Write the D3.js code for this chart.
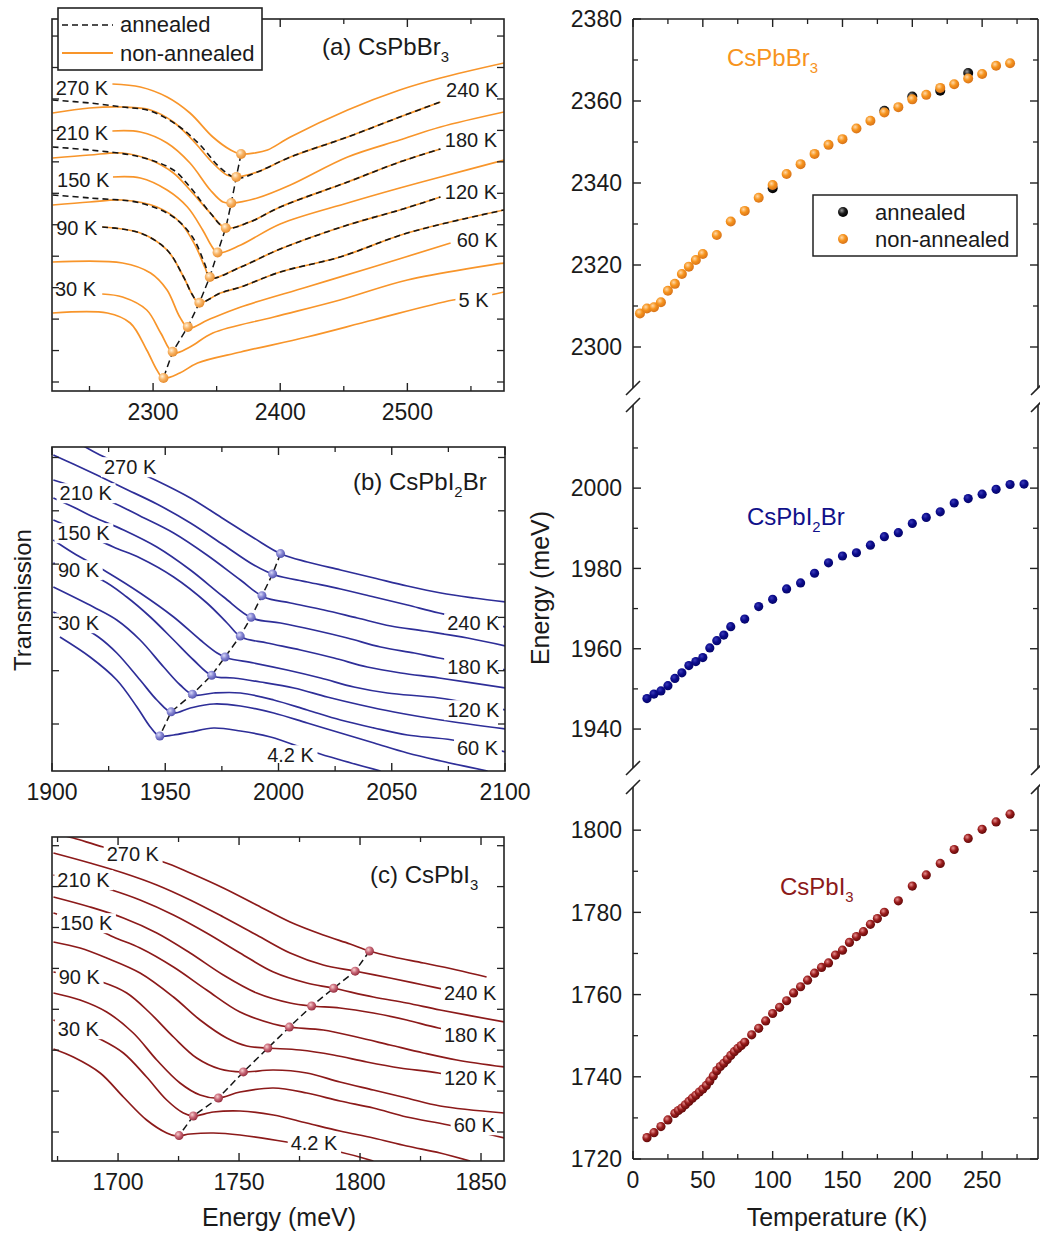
<!DOCTYPE html>
<html><head><meta charset="utf-8">
<script src="https://cdn.jsdelivr.net/npm/d3@7/dist/d3.min.js"></script>
<style>
body{margin:0;background:#fff}
svg{display:block}
text{font-family:"Liberation Sans",Arial,Helvetica,sans-serif;fill:#1a1a1a}
</style></head>
<body><svg id="chart" width="1040" height="1237"></svg>
<script>
// ================= DATA =================
// Right panel: exciton energy vs temperature
const tempsBr = [5,10,15,20,25,30,35,40,45,50,60,70,80,90,100,110,120,130,140,150,160,170,180,190,200,210,220,230,240,250,260,270];
const energyBr = [2308.2,2309.4,2309.7,2310.9,2313.7,2315.4,2317.8,2319.6,2321.2,2322.7,2327.3,2330.6,2333.2,2336.4,2339.5,2342.2,2344.6,2347.1,2349.3,2350.7,2353.3,2355.2,2357.2,2358.5,2360.4,2361.5,2363.2,2364.1,2365.5,2366.6,2368.6,2369.2];
const tempsBrAnn = [100,180,200,220,240];
const energyBrAnn = [2338.7,2357.6,2361.1,2362.5,2366.8];
const tempsI2Br = [10,15,20,25,30,35,40,45,50,55,60,65,70,80,90,100,110,120,130,140,150,160,170,180,190,200,210,220,230,240,250,260,270,280];
const energyI2Br = [1947.6,1948.7,1949.5,1950.8,1952.6,1954.0,1955.8,1956.8,1957.8,1960.2,1962.0,1963.4,1965.5,1967.4,1970.5,1972.3,1974.9,1976.4,1978.8,1981.4,1983.1,1983.9,1985.8,1987.9,1988.9,1991.2,1992.7,1994.1,1996.3,1997.4,1998.5,1999.7,2000.9,2001.0];
const tempsI3 = [10,15,20,25,30,32.5,35,37.5,40,42.5,45,47.5,50,52.5,55,57.5,60,62.5,65,67.5,70,72.5,75,77.5,80,85,90,95,100,105,110,115,120,125,130,135,140,145,150,155,160,165,170,175,180,190,200,210,220,230,240,250,260,270];
const energyI3 = [1725.2,1726.4,1727.9,1729.5,1731.1,1731.8,1732.4,1733.2,1734.0,1734.8,1735.5,1736.3,1737.0,1737.9,1739.0,1740.2,1741.5,1742.5,1743.3,1744.2,1745.2,1746.1,1746.9,1747.6,1748.4,1750.2,1751.8,1753.6,1755.4,1756.9,1758.5,1760.4,1761.9,1763.5,1765.2,1766.6,1767.7,1769.6,1770.8,1772.7,1774.1,1775.3,1777.1,1778.5,1780.0,1782.8,1786.4,1789.1,1791.9,1795.3,1798.0,1800.2,1802.0,1803.9];

// Panel (a) CsPbBr3 transmission spectra [energy meV, transmission a.u.]
const curveTempsA = [270,240,210,180,150,120,90,60,30,5];
const spectraA = [
 [[2268,30.7],[2290,30.4],[2311,29.4],[2329,27.8],[2347,25.4],[2361,24.1],[2369,23.7],[2380,23.8],[2390,24.1],[2408,25.4],[2453,28.1],[2494,30.1],[2526,31.3],[2576,32.8]],
 [[2221,27.8],[2250,28.3],[2276,28.4],[2298,28.1],[2316,26.9],[2331,25.1],[2347,22.8],[2358,21.6],[2366,21.4],[2382,21.9],[2408,23.4],[2453,25.4],[2494,27.4],[2526,28.9]],
 [[2268,26.0],[2290,25.9],[2311,24.8],[2329,22.8],[2345,20.1],[2355,18.9],[2362,18.8],[2382,19.3],[2408,20.6],[2453,23.4],[2494,25.1],[2526,26.4],[2576,27.9]],
 [[2221,23.3],[2250,23.6],[2276,23.8],[2298,23.1],[2316,21.8],[2329,20.1],[2345,17.8],[2357,16.3],[2376,16.9],[2400,18.4],[2453,20.9],[2494,22.9],[2526,24.2]],
 [[2268,21.4],[2290,21.3],[2311,20.1],[2327,18.4],[2339,16.1],[2346,14.5],[2351,13.8],[2369,14.6],[2400,16.7],[2453,18.8],[2494,20.3],[2526,21.4],[2576,23.1]],
 [[2221,18.6],[2250,18.9],[2276,19.1],[2303,18.4],[2321,16.9],[2333,14.6],[2341,12.3],[2345,11.3],[2369,12.4],[2400,14.2],[2453,16.6],[2494,18.1],[2526,19.4]],
 [[2260,16.4],[2290,15.8],[2311,14.1],[2324,11.4],[2331,9.6],[2336,8.8],[2353,9.8],[2369,10.4],[2400,11.9],[2447,13.4],[2500,15.8],[2576,18.1]],
 [[2221,12.9],[2276,12.8],[2298,11.8],[2311,10.1],[2321,7.4],[2328,6.3],[2343,7.1],[2369,8.4],[2421,10.4],[2473,12.4],[2534,14.8]],
 [[2260,9.7],[2276,9.4],[2295,8.1],[2306,5.8],[2316,3.8],[2329,4.4],[2347,5.8],[2395,7.4],[2447,9.1],[2500,11.1],[2576,12.8]],
 [[2221,7.8],[2264,7.8],[2282,6.8],[2295,4.1],[2303,2.1],[2308,1.3],[2321,1.8],[2335,2.8],[2369,3.9],[2421,5.4],[2473,7.1],[2536,9.1],[2565,9.6],[2576,9.9]]
];
const annealedTempsA = [240,180,120,90];
const annealedA = [
 [[2221,29.1],[2250,28.8],[2276,28.4],[2298,28.0],[2321,26.4],[2337,24.6],[2353,22.3],[2366,21.3],[2382,21.9],[2408,23.4],[2453,25.4],[2494,27.4],[2526,28.9]],
 [[2221,24.4],[2250,24.1],[2290,23.4],[2316,22.1],[2329,20.4],[2345,17.8],[2357,16.3],[2376,16.9],[2400,18.4],[2453,20.9],[2494,22.9],[2526,24.2]],
 [[2221,19.6],[2250,19.3],[2290,18.8],[2316,17.4],[2331,15.4],[2341,12.6],[2345,11.3],[2369,12.4],[2400,14.2],[2453,16.6],[2494,18.1],[2526,19.4]],
 [[2260,16.4],[2290,15.8],[2311,14.1],[2324,11.4],[2331,9.6],[2336,8.8],[2353,9.8],[2369,10.4],[2400,11.9],[2447,13.4],[2500,15.8],[2576,18.1]]
];
const labelsA = [['270 K',2244,30.3],['210 K',2244,25.8],['150 K',2245,21.1],['90 K',2240,16.3],['30 K',2239,10.2],
 ['240 K',2551,30.1],['180 K',2550,25.1],['120 K',2550,19.9],['60 K',2555,15.1],['5 K',2552,9.1]];

// Panel (b) CsPbI2Br
const curveTempsB = [270,240,210,180,150,120,90,60,30,4.2];
const spectraB = [
 [[1909.4,33.1],[1921.2,31.6],[1945.6,29.1],[1961.1,27.3],[1975.8,25.2],[1989.1,23.3],[2001.2,21.7],[2012.7,20.9],[2027.4,20.1],[2042.2,19.3],[2056.9,18.5],[2071.7,17.8],[2086.4,17.3],[2100.4,16.9]],
 [[1900.6,31.6],[1909.4,30.7],[1919.8,29.6],[1931.6,28.3],[1946.3,26.7],[1961.1,24.8],[1975.8,22.6],[1989.1,20.6],[1998.4,19.6],[2012.7,18.9],[2027.4,18.2],[2042.2,17.4],[2056.9,16.6],[2070.9,15.8],[2100.4,14.4]],
 [[1900.6,29.1],[1913.9,28.1],[1926.4,26.9],[1938.9,25.5],[1953.7,23.8],[1968.4,21.6],[1983.2,19.1],[1993.5,17.4],[2005.3,16.8],[2020.1,16.1],[2034.8,15.3],[2049.6,14.5],[2064.3,14.0],[2083.5,13.3],[2100.4,12.5]],
 [[1900.6,27.3],[1909.4,26.4],[1918.3,25.4],[1931.6,24.1],[1946.3,22.4],[1961.1,20.1],[1975.8,17.4],[1988.3,15.3],[2000.9,14.8],[2015.6,14.1],[2030.4,13.3],[2045.1,12.4],[2059.9,11.8],[2070.9,11.3],[2100.4,10.1]],
 [[1900.6,25.1],[1913.9,23.8],[1927.1,22.4],[1938.9,21.3],[1953.7,19.4],[1968.4,16.8],[1977.3,14.8],[1983.5,13.4],[1995,12.8],[2009.7,12.1],[2024.5,11.3],[2039.2,10.4],[2054,9.8],[2070.9,9.3],[2100.4,8.3]],
 [[1900.6,23.1],[1909.4,21.8],[1924.2,19.9],[1938.9,17.8],[1953.7,15.4],[1965.5,13.1],[1972.9,11.8],[1977.3,11.3],[1989.1,10.8],[2003.8,10.1],[2018.6,9.3],[2033.3,8.4],[2048.1,7.8],[2070.9,7.3],[2100.4,6.1]],
 [[1900.6,20.8],[1922,19.1],[1933,17.4],[1943.4,15.4],[1953.7,13.1],[1962.5,11.1],[1970.9,9.5],[1980.2,9.3],[1992,8.9],[2006.8,8.3],[2021.5,7.4],[2036.3,6.6],[2051,5.9],[2071.7,5.1],[2100.4,4.2]],
 [[1900.6,18.4],[1918.3,16.4],[1928.6,15.1],[1938.9,13.1],[1949.3,10.4],[1956.6,8.6],[1962.5,7.6],[1971.4,7.8],[1983.2,7.8],[1997.9,7.1],[2012.7,6.1],[2027.4,5.1],[2042.2,4.3],[2056.9,3.6],[2076.8,3.1],[2100.4,1.9]],
 [[1900.6,15.9],[1909.4,14.9],[1920.5,13.4],[1928.6,11.8],[1938.9,9.1],[1946.3,7.1],[1953.2,5.8],[1961.1,6.3],[1971.4,6.7],[1983.2,6.5],[1997.9,5.8],[2012.7,4.8],[2027.4,3.8],[2042.2,2.8],[2056.9,1.8],[2071.7,1.0],[2092.3,0]],
 [[1903.5,13.4],[1916.8,11.4],[1928.6,9.1],[1937.5,6.4],[1943.4,4.4],[1947.3,3.5],[1953.7,3.6],[1961.1,3.9],[1971.4,4.3],[1983.2,4.0],[1996.5,3.4],[2015.6,1.9],[2027.4,1.1],[2045.1,0]]
];
const labelsB = [['270 K',1934.5,30.4],['210 K',1914.9,27.8],['150 K',1913.9,23.8],['90 K',1911.7,20.1],['30 K',1911.7,14.8],
 ['240 K',2086,14.8],['180 K',2086,10.4],['120 K',2086,6.1],['60 K',2087.9,2.3],['4.2 K',2005.3,1.6]];

// Panel (c) CsPbI3
const curveTempsC = [270,240,210,180,150,120,90,60,30,4.2];
const spectraC = [
 [[1673.3,32.8],[1681.5,32.3],[1693.9,31.4],[1718.7,29.9],[1729.8,28.8],[1743.5,27.3],[1757.3,25.6],[1771.1,23.9],[1784.8,22.6],[1795.9,21.7],[1803.9,21.0],[1813.8,20.4],[1826.2,19.8],[1840,19.1],[1852.3,18.4]],
 [[1673.3,30.8],[1688.4,29.8],[1702.2,28.8],[1716,27.6],[1729.8,26.1],[1743.5,24.4],[1757.3,22.6],[1771.1,20.8],[1784.8,19.6],[1797.7,19.0],[1812.4,18.3],[1826.2,17.6],[1840,16.9],[1852.3,16.3]],
 [[1673.3,28.6],[1685.7,27.9],[1697.4,27.1],[1709.1,26.1],[1722.9,24.6],[1736.6,22.8],[1750.4,20.8],[1764.2,18.9],[1778,17.8],[1788.7,17.3],[1805.5,16.4],[1819.3,15.8],[1833.1,15.1],[1859.6,13.9]],
 [[1673.3,26.4],[1688.4,25.4],[1702.2,24.3],[1716,22.8],[1729.8,20.8],[1743.5,18.6],[1757.3,16.8],[1771.1,15.8],[1779.8,15.5],[1791.7,15.3],[1805.5,14.8],[1819.3,14.1],[1832.4,13.3],[1852.3,12.4]],
 [[1673.3,24.8],[1685.7,23.8],[1698.1,22.4],[1709.1,21.3],[1722.9,19.4],[1736.6,17.1],[1750.4,14.9],[1764.2,13.7],[1770.4,13.4],[1784.8,13.1],[1798.6,12.4],[1812.4,11.6],[1826.2,10.8],[1840,10.1],[1859.6,9.4]],
 [[1673.3,21.9],[1684.3,21.3],[1695.3,20.3],[1709.1,18.8],[1722.9,16.4],[1733.9,14.1],[1744.9,12.3],[1753.2,11.5],[1761.4,11.3],[1775.2,11.1],[1789,10.6],[1802.8,9.9],[1816.5,9.3],[1832.4,8.8],[1852.3,7.8]],
 [[1673.3,18.9],[1684.3,18.4],[1693.3,17.9],[1703.6,16.8],[1713.2,14.8],[1722.9,12.4],[1732.5,10.3],[1742.1,9.2],[1751.4,8.9],[1764.2,9.1],[1778,8.8],[1791.7,7.9],[1805.5,7.1],[1819.3,6.3],[1833.1,5.5],[1859.6,4.8]],
 [[1673.3,16.8],[1684.3,16.1],[1695.3,14.9],[1706.3,12.8],[1716,10.1],[1725.6,7.8],[1733.9,6.6],[1741.5,6.3],[1750.4,6.9],[1764.2,7.3],[1778,6.8],[1791.7,6.0],[1805.5,5.3],[1819.3,4.4],[1836.5,3.6],[1859.6,2.3]],
 [[1673.3,14.1],[1693.3,12.1],[1702.2,10.8],[1711.8,8.4],[1720.1,6.1],[1727,4.8],[1731.1,4.5],[1739.4,4.9],[1750.4,5.0],[1764.2,4.6],[1778,3.8],[1791.7,3.0],[1805.5,2.3],[1819.3,1.5],[1833.1,0.8],[1845.5,0]],
 [[1673.3,11.2],[1681.5,10.4],[1692.6,8.8],[1702.2,6.4],[1711.8,4.1],[1720.1,2.8],[1724,2.5],[1729.8,2.7],[1739.4,2.8],[1750.4,2.6],[1769.7,1.9],[1791.7,0.9],[1805.5,0]]
];
const labelsC = [['270 K',1706.1,30.7],['210 K',1685.7,28.1],['150 K',1686.8,23.8],['90 K',1684,18.4],['30 K',1683.6,13.2],
 ['240 K',1845.5,16.8],['180 K',1845.5,12.6],['120 K',1845.5,8.3],['60 K',1847.2,3.6],['4.2 K',1781,1.8]];

// ================= DRAWING =================
const svg = d3.select('#chart');
const defs = svg.append('defs');
function sphere(id, light, base, dark){
  const gr = defs.append('radialGradient').attr('id', id).attr('cx','38%').attr('cy','35%').attr('r','65%');
  gr.append('stop').attr('offset','0%').attr('stop-color', light);
  gr.append('stop').attr('offset','50%').attr('stop-color', base);
  gr.append('stop').attr('offset','100%').attr('stop-color', dark);
}
sphere('sOrange','#ffd9a8','#f7941d','#d8741a');
sphere('sBlack','#9a9a9a','#1c1c1c','#000');
sphere('sRed','#e89090','#9a1c1c','#640a0a');
sphere('sNavy','#3a3ab8','#0b0b8c','#05056a');
sphere('dA','#fff0d8','#f8b466','#e88e30');
sphere('dB','#d8d8f8','#8888d4','#5656b0');
sphere('dC','#f8d0d0','#c86878','#983040');

const ORANGE = '#f8952a', NAVY = '#2e2e98', DRED = '#8c1a1a';

function lookupE(ts, es, t){
  let bi = 0, bd = Infinity;
  ts.forEach((v,i)=>{ const d = Math.abs(v - t); if (d < bd){ bd = d; bi = i; } });
  return es[bi];
}
function interpV(curve, E){
  for (let i = 0; i < curve.length - 1; i++){
    const a = curve[i], b = curve[i+1];
    if (E >= a[0] && E <= b[0]) return a[1] + (b[1]-a[1]) * (E - a[0]) / (b[0]-a[0]);
  }
  return E < curve[0][0] ? curve[0][1] : curve[curve.length-1][1];
}
function subText(sel, parts, fs){
  parts.forEach(([t, sub], i) => {
    const ts = sel.append('tspan').text(t);
    if (sub) ts.attr('font-size', fs*0.62).attr('dy', fs*0.28);
    else if (i > 0 && parts[i-1][1]) ts.attr('dy', -fs*0.28);
  });
}

function spectraPanel(o){
  const x = d3.scaleLinear().domain(o.xDomain).range([o.L, o.R]);
  const y = d3.scaleLinear().domain(o.yDomain).range([o.B, o.T]);
  const g = svg.append('g');
  const cid = 'clip' + o.id;
  defs.append('clipPath').attr('id', cid).append('rect')
    .attr('x', o.L).attr('y', o.T).attr('width', o.R - o.L).attr('height', o.B - o.T);
  const body = g.append('g').attr('clip-path', `url(#${cid})`);
  const line = d3.line().x(d => x(d[0])).y(d => y(d[1])).curve(d3.curveCatmullRom.alpha(0.5));
  o.curves.forEach(c => body.append('path').attr('d', line(c)).attr('fill','none')
    .attr('stroke', o.color).attr('stroke-width', 1.7));
  (o.annealed || []).forEach(c => body.append('path').attr('d', line(c)).attr('fill','none')
    .attr('stroke','#151515').attr('stroke-width', 1.6).attr('stroke-dasharray','6,4'));
  const dots = o.temps.map((t, i) => { const E = lookupE(o.seriesT, o.seriesE, t); return [E, interpV(o.curves[i], E)]; });
  body.append('path').attr('d', d3.line().x(d => x(d[0])).y(d => y(d[1]))(dots))
    .attr('fill','none').attr('stroke','#151515').attr('stroke-width',1.5).attr('stroke-dasharray','7,4');
  body.selectAll('circle.dot').data(dots).join('circle').attr('class','dot')
    .attr('cx', d => x(d[0])).attr('cy', d => y(d[1])).attr('r', o.dotR).attr('fill', `url(#${o.dotFill})`);
  // temperature labels
  o.labels.forEach(([t, E, v]) => {
    const lg = g.append('g');
    const tx = lg.append('text').attr('x', x(E)).attr('y', y(v)).attr('dy','0.36em')
      .attr('text-anchor','middle').attr('font-size', 20).text(t);
    const bb = tx.node().getBBox();
    lg.insert('rect','text').attr('x', bb.x - 3).attr('y', bb.y + 1).attr('width', bb.width + 6).attr('height', bb.height - 2).attr('fill','#fff');
  });
  // frame
  g.append('rect').attr('x', o.L).attr('y', o.T).attr('width', o.R - o.L).attr('height', o.B - o.T)
    .attr('fill','none').attr('stroke','#222').attr('stroke-width',1.6);
  // x ticks
  o.xMajor.forEach(v => {
    g.append('line').attr('x1', x(v)).attr('x2', x(v)).attr('y1', o.B).attr('y2', o.B - 8).attr('stroke','#222').attr('stroke-width',1.4);
    g.append('line').attr('x1', x(v)).attr('x2', x(v)).attr('y1', o.T).attr('y2', o.T + 8).attr('stroke','#222').attr('stroke-width',1.4);
    g.append('text').attr('x', x(v)).attr('y', o.B + 29).attr('text-anchor','middle').attr('font-size', 23).text(v);
  });
  o.xMinor.forEach(v => {
    g.append('line').attr('x1', x(v)).attr('x2', x(v)).attr('y1', o.B).attr('y2', o.B - 5).attr('stroke','#222').attr('stroke-width',1.3);
    g.append('line').attr('x1', x(v)).attr('x2', x(v)).attr('y1', o.T).attr('y2', o.T + 5).attr('stroke','#222').attr('stroke-width',1.3);
  });
  o.yTicks.forEach(v => {
    g.append('line').attr('x1', o.L).attr('x2', o.L + 7).attr('y1', y(v)).attr('y2', y(v)).attr('stroke','#222').attr('stroke-width',1.3);
    g.append('line').attr('x1', o.R).attr('x2', o.R - 7).attr('y1', y(v)).attr('y2', y(v)).attr('stroke','#222').attr('stroke-width',1.3);
  });
  const tt = g.append('text').attr('x', o.titleX).attr('y', o.titleY).attr('font-size', 24);
  subText(tt, o.title, 24);
  return {x, y, g};
}

const pA = spectraPanel({id:'A', L:52, R:504, T:19, B:391, xDomain:[2220.5,2576], yDomain:[0,37.2],
  curves: spectraA, annealed: annealedA, temps: curveTempsA, seriesT: tempsBr, seriesE: energyBr,
  color: ORANGE, dotFill:'dA', dotR:5, labels: labelsA,
  xMajor:[2300,2400,2500], xMinor:[2250,2350,2450,2550],
  yTicks: d3.range(0.9, 37.2, 3.145), titleX:322, titleY:55, title:[['(a) CsPbBr',false],['3',true]]});
const pB = spectraPanel({id:'B', L:52, R:505, T:447, B:771, xDomain:[1900,2100], yDomain:[0,32.4],
  curves: spectraB, temps: curveTempsB, seriesT: tempsI2Br, seriesE: energyI2Br,
  color: NAVY, dotFill:'dB', dotR:4.5, labels: labelsB,
  xMajor:[1900,1950,2000,2050,2100], xMinor:[1925,1975,2025,2075],
  yTicks: d3.range(4.7, 32.4, 5.33), titleX:353, titleY:490, title:[['(b) CsPbI',false],['2',true],['Br',false]]});
const pC = spectraPanel({id:'C', L:52, R:504, T:837, B:1161, xDomain:[1672.7,1859.5], yDomain:[0,32.4],
  curves: spectraC, temps: curveTempsC, seriesT: tempsI3, seriesE: energyI3,
  color: DRED, dotFill:'dC', dotR:4.5, labels: labelsC,
  xMajor:[1700,1750,1800,1850], xMinor:[1675,1725,1775,1825],
  yTicks: d3.range(2.9, 32.4, 4.09), titleX:370, titleY:883, title:[['(c) CsPbI',false],['3',true]]});

// legend (a)
const la = svg.append('g');
la.append('rect').attr('x',58).attr('y',8).attr('width',204).attr('height',62).attr('fill','#fff').attr('stroke','#222').attr('stroke-width',1.6);
la.append('line').attr('x1',62).attr('x2',113).attr('y1',25).attr('y2',25).attr('stroke','#151515').attr('stroke-width',1.6).attr('stroke-dasharray','6,4');
la.append('text').attr('x',120).attr('y',32).attr('font-size',22).text('annealed');
la.append('line').attr('x1',62).attr('x2',113).attr('y1',53).attr('y2',53).attr('stroke',ORANGE).attr('stroke-width',1.8);
la.append('text').attr('x',120).attr('y',61).attr('font-size',22).text('non-annealed');

// axis titles left
svg.append('text').attr('transform','translate(31,600) rotate(-90)').attr('text-anchor','middle').attr('font-size',24).text('Transmission');
svg.append('text').attr('x',279).attr('y',1226).attr('text-anchor','middle').attr('font-size',25).text('Energy (meV)');

// ================= RIGHT PANEL =================
const RL = 633, RR = 1038, RT = 19, RB = 1159;
const rx = d3.scaleLinear().domain([0,290]).range([RL, RR]);
const segs = [
  {y: d3.scaleLinear().domain([2290,2380]).range([388,19]), major:[2300,2320,2340,2360,2380], minor:[2290,2310,2330,2350,2370], top:19, bot:388, breakTop:false, breakBot:true},
  {y: d3.scaleLinear().domain([1930.3,2020.7]).range([768,405]), major:[1940,1960,1980,2000], minor:[1950,1970,1990,2010], top:405, bot:768, breakTop:true, breakBot:true},
  {y: d3.scaleLinear().domain([1720,1810.5]).range([1159,787]), major:[1720,1740,1760,1780,1800], minor:[1730,1750,1770,1790], top:787, bot:1159, breakTop:true, breakBot:false}
];
const rg = svg.append('g');
rg.append('line').attr('x1',RL).attr('x2',RR).attr('y1',RT).attr('y2',RT).attr('stroke','#222').attr('stroke-width',1.6);
rg.append('line').attr('x1',RL).attr('x2',RR).attr('y1',RB).attr('y2',RB).attr('stroke','#222').attr('stroke-width',1.6);
segs.forEach(s => {
  [RL, RR].forEach((ax, k) => {
    rg.append('line').attr('x1',ax).attr('x2',ax).attr('y1',s.top).attr('y2',s.bot).attr('stroke','#222').attr('stroke-width',1.6);
    const dir = k === 0 ? 1 : -1;
    s.major.forEach(v => rg.append('line').attr('x1',ax).attr('x2',ax + dir*8).attr('y1',s.y(v)).attr('y2',s.y(v)).attr('stroke','#222').attr('stroke-width',1.4));
    s.minor.forEach(v => { const yy = s.y(v); if (yy > s.top + 2 && yy < s.bot - 2) rg.append('line').attr('x1',ax).attr('x2',ax + dir*5).attr('y1',yy).attr('y2',yy).attr('stroke','#222').attr('stroke-width',1.3); });
    const br = [];
    if (s.breakTop) br.push(s.top);
    if (s.breakBot) br.push(s.bot);
    br.forEach(yy => rg.append('line').attr('x1',ax - 7).attr('x2',ax + 7).attr('y1',yy + 7).attr('y2',yy - 7).attr('stroke','#222').attr('stroke-width',1.6));
  });
  s.major.forEach(v => rg.append('text').attr('x',622).attr('y',s.y(v)).attr('dy','0.36em').attr('text-anchor','end').attr('font-size',23).text(v));
});
[0,50,100,150,200,250].forEach(v => {
  rg.append('line').attr('x1',rx(v)).attr('x2',rx(v)).attr('y1',RB).attr('y2',RB-8).attr('stroke','#222').attr('stroke-width',1.4);
  rg.append('line').attr('x1',rx(v)).attr('x2',rx(v)).attr('y1',RT).attr('y2',RT+8).attr('stroke','#222').attr('stroke-width',1.4);
  rg.append('text').attr('x',rx(v)).attr('y',RB+29).attr('text-anchor','middle').attr('font-size',23).text(v);
});
[25,75,125,175,225,275].forEach(v => {
  rg.append('line').attr('x1',rx(v)).attr('x2',rx(v)).attr('y1',RB).attr('y2',RB-5).attr('stroke','#222').attr('stroke-width',1.3);
  rg.append('line').attr('x1',rx(v)).attr('x2',rx(v)).attr('y1',RT).attr('y2',RT+5).attr('stroke','#222').attr('stroke-width',1.3);
});
function scatter(ts, es, seg, fill, r){
  rg.append('g').selectAll('circle').data(ts.map((t,i)=>[t, es[i]])).join('circle')
    .attr('cx', d => rx(d[0])).attr('cy', d => seg.y(d[1])).attr('r', r).attr('fill', `url(#${fill})`);
}
scatter(tempsBrAnn, energyBrAnn, segs[0], 'sBlack', 5);
scatter(tempsBr, energyBr, segs[0], 'sOrange', 5);
scatter(tempsI2Br, energyI2Br, segs[1], 'sNavy', 4.6);
scatter(tempsI3, energyI3, segs[2], 'sRed', 4.6);

// compound labels
let t1 = rg.append('text').attr('x',727).attr('y',66).attr('font-size',24).style('fill','#f7941d');
subText(t1, [['CsPbBr',false],['3',true]], 24);
let t2 = rg.append('text').attr('x',747).attr('y',525).attr('font-size',24).style('fill','#10108a');
subText(t2, [['CsPbI',false],['2',true],['Br',false]], 24);
let t3 = rg.append('text').attr('x',780).attr('y',895).attr('font-size',24).style('fill','#8c1a1a');
subText(t3, [['CsPbI',false],['3',true]], 24);

// legend right
rg.append('rect').attr('x',813).attr('y',195).attr('width',204).attr('height',61).attr('fill','#fff').attr('stroke','#222').attr('stroke-width',1.5);
rg.append('circle').attr('cx',843).attr('cy',212).attr('r',5).attr('fill','url(#sBlack)');
rg.append('text').attr('x',875).attr('y',220).attr('font-size',22).text('annealed');
rg.append('circle').attr('cx',843).attr('cy',239).attr('r',5).attr('fill','url(#sOrange)');
rg.append('text').attr('x',875).attr('y',247).attr('font-size',22).text('non-annealed');

svg.append('text').attr('transform','translate(549,588) rotate(-90)').attr('text-anchor','middle').attr('font-size',25).text('Energy (meV)');
svg.append('text').attr('x',837).attr('y',1226).attr('text-anchor','middle').attr('font-size',25).text('Temperature (K)');
</script></body></html>
